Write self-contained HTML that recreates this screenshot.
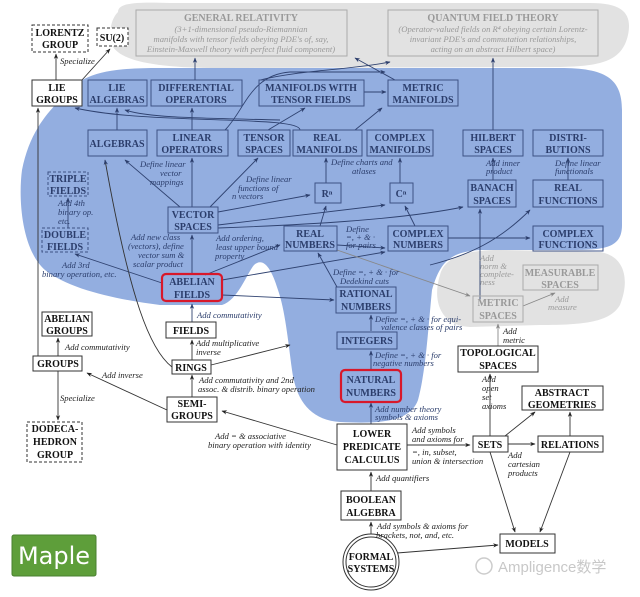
<!DOCTYPE html>
<html><head><meta charset="utf-8"><style>
body{margin:0;background:#fff;}
svg{display:block;}
.b{font-family:"Liberation Serif",serif;font-weight:bold;font-size:10px;text-anchor:middle;}
.i{font-family:"Liberation Serif",serif;font-style:italic;font-size:8.6px;}
.k text.b{fill:#111}
.u text.b{fill:#2b3d6b}
.g text.b{fill:#999}
.k rect{fill:#fff;stroke:#333;stroke-width:1}
.u rect{fill:none;stroke:#3d5185;stroke-width:1}
.g rect{fill:none;stroke:#aaa;stroke-width:1}
.d rect{stroke-dasharray:3,2}
.u rect.red{stroke:#d8182a;stroke-width:2.2}
.ul{fill:#2b3d6b}.kl{fill:#222}.gl{fill:#999}
</style></head><body>
<svg width="640" height="597" viewBox="0 0 640 597" xmlns="http://www.w3.org/2000/svg">
<defs>
<marker id="a" viewBox="0 0 10 10" refX="9" refY="5" markerWidth="8" markerHeight="6" orient="auto"><path d="M0,1 L10,5 L0,9 L3,5z" fill="#222"/></marker>
<marker id="ab" viewBox="0 0 10 10" refX="9" refY="5" markerWidth="8" markerHeight="6" orient="auto"><path d="M0,1 L10,5 L0,9 L3,5z" fill="#2b3d6b"/></marker>
<marker id="ag" viewBox="0 0 10 10" refX="9" refY="5" markerWidth="8" markerHeight="6" orient="auto"><path d="M0,1 L10,5 L0,9 L3,5z" fill="#888"/></marker>
</defs>
<path d="M118,12 C118,2 140,2 170,3 L590,3 C625,3 632,15 628,35 C622,62 600,66 560,67 L220,68 C160,68 120,62 112,45 C108,30 112,18 118,12Z" fill="#e2e2e2"/>
<path d="M440,275 C445,255 470,250 500,250 L600,252 C625,256 630,280 620,305 C610,322 585,325 540,325 L470,327 C440,326 432,300 440,275Z" fill="#e2e2e2"/>
<path d="M60,100 C80,72 110,68 160,68 L560,68 C605,68 622,78 622,110 L622,225 C622,248 605,250 570,250 L480,250 C450,252 440,262 432,290 C428,330 426,370 418,400 C410,422 380,424 340,422 C310,420 296,400 292,370 C288,340 285,310 278,290 C270,264 262,258 254,265 C246,275 238,300 222,305 L160,305 C120,300 70,290 45,270 C22,250 18,200 22,170 C28,140 40,120 60,100Z" fill="#93aee0"/>
<g class="g"><rect x="136" y="10" width="211" height="46"/><rect x="388" y="10" width="210" height="46"/>
<text class="b" x="241" y="21">GENERAL RELATIVITY</text>
<text class="b" x="493" y="21">QUANTUM FIELD THEORY</text></g>
<g class="i gl" text-anchor="middle">
<text x="241" y="32">(3+1-dimensional pseudo-Riemannian</text>
<text x="241" y="42">manifolds with tensor fields obeying PDE's of, say,</text>
<text x="241" y="52">Einstein-Maxwell theory with perfect fluid component)</text>
<text x="493" y="32">(Operator-valued fields on R⁴ obeying certain Lorentz-</text>
<text x="493" y="42">invariant PDE's and commutation relationships,</text>
<text x="493" y="52">acting on an abstract Hilbert space)</text>
</g>
<g stroke="#333" stroke-width="0.9" fill="none" marker-end="url(#a)">
<line x1="56" y1="80" x2="56" y2="54"/>
<line x1="82" y1="80" x2="110" y2="49"/>
<line x1="38" y1="356" x2="38" y2="108"/>
<line x1="58" y1="356" x2="58" y2="338"/>
<line x1="58" y1="370" x2="58" y2="420"/>
<line x1="167" y1="410" x2="87" y2="373"/>
<line x1="192" y1="397" x2="192" y2="375"/>
<line x1="192" y1="361" x2="192" y2="340"/>
<line x1="337" y1="445" x2="222" y2="411"/>
<line x1="371" y1="491" x2="371" y2="472"/>
<line x1="371" y1="535" x2="371" y2="522"/>
<line x1="397" y1="553" x2="498" y2="545"/>
<line x1="407" y1="445" x2="470" y2="445"/>
<line x1="508" y1="444" x2="535" y2="444"/>
<line x1="505" y1="436" x2="535" y2="412"/>
<line x1="570" y1="436" x2="570" y2="412"/>
<line x1="490" y1="436" x2="490" y2="374"/>
<line x1="490" y1="452" x2="515" y2="532"/>
<line x1="570" y1="452" x2="540" y2="532"/>
<path d="M172,367 C150,350 130,300 105,160" marker-end="url(#ab)"/>
<line x1="211" y1="365" x2="290" y2="345"/>
</g>
<g stroke="#2f4270" stroke-width="0.9" fill="none" marker-end="url(#ab)">
<line x1="192" y1="322" x2="192" y2="304"/>
<line x1="371" y1="424" x2="371" y2="403"/>
<line x1="371" y1="369" x2="371" y2="351"/>
<line x1="371" y1="331" x2="371" y2="315"/>
<line x1="337" y1="287" x2="318" y2="253"/>
<line x1="222" y1="295" x2="334" y2="300"/>
<line x1="222" y1="280" x2="385" y2="252"/>
<line x1="192" y1="275" x2="192" y2="235"/>
<line x1="205" y1="275" x2="280" y2="245"/>
<line x1="162" y1="283" x2="75" y2="254"/>
<line x1="68" y1="228" x2="68" y2="198"/>
<line x1="192" y1="207" x2="192" y2="158"/>
<line x1="180" y1="207" x2="125" y2="160"/>
<line x1="210" y1="207" x2="258" y2="158"/>
<line x1="218" y1="212" x2="310" y2="195"/>
<line x1="218" y1="225" x2="385" y2="205"/>
<path d="M218,228 C300,225 400,220 463,207"/>
<line x1="337" y1="245" x2="385" y2="248"/>
<line x1="320" y1="226" x2="326" y2="206"/>
<line x1="415" y1="226" x2="405" y2="206"/>
<line x1="448" y1="238" x2="530" y2="238"/>
<line x1="480" y1="300" x2="480" y2="209"/>
<path d="M430,265 C470,255 500,240 530,210"/>
<line x1="326" y1="183" x2="326" y2="158"/>
<line x1="400" y1="183" x2="400" y2="158"/>
<line x1="493" y1="180" x2="493" y2="158"/>
<line x1="568" y1="180" x2="568" y2="158"/>
<line x1="117" y1="130" x2="117" y2="108"/>
<line x1="192" y1="130" x2="192" y2="108"/>
<line x1="268" y1="130" x2="305" y2="108"/>
<line x1="355" y1="130" x2="382" y2="108"/>
<line x1="364" y1="92" x2="386" y2="92"/>
<line x1="493" y1="130" x2="493" y2="58"/>
<line x1="195" y1="80" x2="195" y2="58"/>
<path d="M300,130 C300,115 150,125 75,108"/>
<path d="M280,120 C200,118 150,118 125,110"/>
<path d="M225,130 C245,110 250,75 290,72 L385,72"/>
<path d="M260,80 C300,70 350,70 390,62"/>
<line x1="395" y1="80" x2="355" y2="58"/>
</g>
<g stroke="#888" stroke-width="0.9" fill="none" marker-end="url(#ag)">
<line x1="337" y1="250" x2="470" y2="296"/>
<line x1="523" y1="306" x2="555" y2="293"/>
<line x1="498" y1="346" x2="498" y2="324"/>
</g>
<g class="k">
<g class="d"><rect x="32" y="25" width="56" height="27"/><rect x="97" y="28" width="31" height="18"/><rect x="27" y="422" width="55" height="40"/></g>
<rect x="32" y="80" width="50" height="26"/>
<rect x="42" y="312" width="50" height="24"/>
<rect x="33" y="356" width="49" height="15"/>
<rect x="166" y="322" width="50" height="16"/>
<rect x="172" y="360" width="39" height="14"/>
<rect x="167" y="397" width="50" height="25"/>
<rect x="458" y="346" width="80" height="26"/>
<rect x="522" y="386" width="81" height="24"/>
<rect x="337" y="424" width="70" height="46"/>
<rect x="473" y="436" width="35" height="16"/>
<rect x="538" y="436" width="65" height="16"/>
<rect x="341" y="491" width="60" height="29"/>
<rect x="500" y="534" width="55" height="19"/>
<text class="b" x="60" y="36">LORENTZ</text><text class="b" x="60" y="48">GROUP</text>
<text class="b" x="112" y="41">SU(2)</text>
<text class="b" x="57" y="91">LIE</text><text class="b" x="57" y="103">GROUPS</text>
<text class="b" x="67" y="322">ABELIAN</text><text class="b" x="67" y="334">GROUPS</text>
<text class="b" x="58" y="367">GROUPS</text>
<text class="b" x="55" y="432">DODECA-</text><text class="b" x="55" y="445">HEDRON</text><text class="b" x="55" y="458">GROUP</text>
<text class="b" x="191" y="334">FIELDS</text>
<text class="b" x="191" y="371">RINGS</text>
<text class="b" x="192" y="407">SEMI-</text><text class="b" x="192" y="419">GROUPS</text>
<text class="b" x="498" y="356">TOPOLOGICAL</text><text class="b" x="498" y="369">SPACES</text>
<text class="b" x="562" y="396">ABSTRACT</text><text class="b" x="562" y="408">GEOMETRIES</text>
<text class="b" x="372" y="437">LOWER</text><text class="b" x="372" y="450">PREDICATE</text><text class="b" x="372" y="463">CALCULUS</text>
<text class="b" x="490" y="448">SETS</text>
<text class="b" x="570" y="448">RELATIONS</text>
<text class="b" x="371" y="503">BOOLEAN</text><text class="b" x="371" y="516">ALGEBRA</text>
<text class="b" x="527" y="547">MODELS</text>
<circle cx="371" cy="562" r="28" fill="#fff" stroke="#333"/><circle cx="371" cy="562" r="25" fill="none" stroke="#333"/>
<text class="b" x="371" y="560">FORMAL</text><text class="b" x="371" y="572">SYSTEMS</text>
</g>
<g class="u">
<rect x="88" y="80" width="59" height="26"/><rect x="151" y="80" width="91" height="26"/>
<rect x="259" y="80" width="105" height="26"/><rect x="388" y="80" width="70" height="26"/>
<rect x="88" y="130" width="59" height="26"/><rect x="157" y="130" width="71" height="26"/>
<rect x="238" y="130" width="52" height="26"/><rect x="293" y="130" width="69" height="26"/>
<rect x="367" y="130" width="66" height="26"/><rect x="463" y="130" width="60" height="26"/>
<rect x="533" y="130" width="70" height="26"/>
<rect x="315" y="183" width="26" height="20"/><rect x="390" y="183" width="23" height="20"/>
<rect x="468" y="180" width="48" height="27"/><rect x="533" y="180" width="70" height="27"/>
<rect x="168" y="207" width="50" height="26"/>
<rect x="284" y="226" width="53" height="25"/><rect x="388" y="226" width="60" height="25"/>
<rect x="533" y="226" width="70" height="25"/>
<rect x="336" y="287" width="60" height="26"/><rect x="337" y="332" width="60" height="17"/>
<g class="d"><rect x="48" y="172" width="40" height="24"/><rect x="42" y="228" width="46" height="24"/></g>
<rect class="red" x="162" y="274" width="60" height="27" rx="4"/>
<rect class="red" x="341" y="370" width="60" height="32" rx="4"/>
<text class="b" x="117" y="91">LIE</text><text class="b" x="117" y="103">ALGEBRAS</text>
<text class="b" x="196" y="91">DIFFERENTIAL</text><text class="b" x="196" y="103">OPERATORS</text>
<text class="b" x="311" y="91">MANIFOLDS WITH</text><text class="b" x="311" y="103">TENSOR FIELDS</text>
<text class="b" x="423" y="91">METRIC</text><text class="b" x="423" y="103">MANIFOLDS</text>
<text class="b" x="117" y="147">ALGEBRAS</text>
<text class="b" x="192" y="141">LINEAR</text><text class="b" x="192" y="153">OPERATORS</text>
<text class="b" x="264" y="141">TENSOR</text><text class="b" x="264" y="153">SPACES</text>
<text class="b" x="327" y="141">REAL</text><text class="b" x="327" y="153">MANIFOLDS</text>
<text class="b" x="400" y="141">COMPLEX</text><text class="b" x="400" y="153">MANIFOLDS</text>
<text class="b" x="493" y="141">HILBERT</text><text class="b" x="493" y="153">SPACES</text>
<text class="b" x="568" y="141">DISTRI-</text><text class="b" x="568" y="153">BUTIONS</text>
<text class="b" x="68" y="182">TRIPLE</text><text class="b" x="68" y="194">FIELDS</text>
<text class="b" x="327" y="197">Rⁿ</text><text class="b" x="401" y="197">Cⁿ</text>
<text class="b" x="492" y="191">BANACH</text><text class="b" x="492" y="204">SPACES</text>
<text class="b" x="568" y="191">REAL</text><text class="b" x="568" y="204">FUNCTIONS</text>
<text class="b" x="193" y="218">VECTOR</text><text class="b" x="193" y="230">SPACES</text>
<text class="b" x="65" y="238">DOUBLE</text><text class="b" x="65" y="250">FIELDS</text>
<text class="b" x="310" y="237">REAL</text><text class="b" x="310" y="248">NUMBERS</text>
<text class="b" x="418" y="237">COMPLEX</text><text class="b" x="418" y="248">NUMBERS</text>
<text class="b" x="568" y="237">COMPLEX</text><text class="b" x="568" y="248">FUNCTIONS</text>
<text class="b" x="192" y="285">ABELIAN</text><text class="b" x="192" y="298">FIELDS</text>
<text class="b" x="366" y="297">RATIONAL</text><text class="b" x="366" y="310">NUMBERS</text>
<text class="b" x="367" y="344">INTEGERS</text>
<text class="b" x="371" y="383">NATURAL</text><text class="b" x="371" y="396">NUMBERS</text>
</g>
<g class="g"><rect x="473" y="296" width="50" height="26"/><rect x="523" y="265" width="75" height="25"/>
<text class="b" x="498" y="306">METRIC</text><text class="b" x="498" y="319">SPACES</text>
<text class="b" x="560" y="276">MEASURABLE</text><text class="b" x="560" y="288">SPACES</text></g>
<g class="i kl">
<text x="60" y="64">Specialize</text>
<text x="65" y="350">Add commutativity</text>
<text x="60" y="401">Specialize</text>
<text x="102" y="378">Add inverse</text>
<text x="196" y="346">Add multiplicative</text><text x="196" y="355">inverse</text>
<text x="199" y="383">Add commutativity and 2nd</text><text x="198" y="392">assoc. &amp; distrib. binary operation</text>
<text x="215" y="439">Add = &amp; associative</text><text x="208" y="448">binary operation with identity</text>
<text x="376" y="481">Add quantifiers</text>
<text x="377" y="529">Add symbols &amp; axioms for</text><text x="376" y="538">brackets, not, and, etc.</text>
<text x="412" y="433">Add symbols</text><text x="412" y="442">and axioms for</text>
<text x="412" y="455">=, in, subset,</text><text x="412" y="464">union &amp; intersection</text>
<text x="482" y="382">Add</text><text x="482" y="391">open</text><text x="482" y="400">set</text><text x="482" y="409">axioms</text>
<text x="508" y="458">Add</text><text x="508" y="467">cartesian</text><text x="508" y="476">products</text>
<text x="503" y="334">Add</text><text x="503" y="343">metric</text>
</g>
<g class="i ul">
<text x="58" y="206">Add 4th</text><text x="58" y="215">binary op.</text><text x="58" y="224">etc.</text>
<text x="62" y="268">Add 3rd</text><text x="42" y="277">binary operation, etc.</text>
<text x="197" y="318">Add commutativity</text>
<text x="140" y="167">Define linear</text><text x="160" y="176">vector</text><text x="150" y="185">mappings</text>
<text x="246" y="182">Define linear</text><text x="238" y="191">functions of</text><text x="232" y="199">n vectors</text>
<text x="131" y="240">Add new class</text><text x="128" y="249">(vectors), define</text><text x="138" y="258">vector sum &amp;</text><text x="133" y="267">scalar product</text>
<text x="216" y="241">Add ordering,</text><text x="216" y="250">least upper bound</text><text x="215" y="259">property</text>
<text x="331" y="165">Define charts and</text><text x="352" y="174">atlases</text>
<text x="346" y="232">Define</text><text x="346" y="240">=, + &amp; ·</text><text x="346" y="248">for pairs</text>
<text x="333" y="275">Define =, + &amp; · for</text><text x="340" y="284">Dedekind cuts</text>
<text x="375" y="322">Define =, + &amp; · for equi-</text><text x="381" y="330">valence classes of pairs</text>
<text x="375" y="358">Define =, + &amp; · for</text><text x="373" y="366">negative numbers</text>
<text x="375" y="412">Add number theory</text><text x="375" y="420">symbols &amp; axioms</text>
<text x="486" y="166">Add inner</text><text x="486" y="174">product</text>
<text x="555" y="166">Define linear</text><text x="555" y="174">functionals</text>
</g>
<g class="i gl">
<text x="480" y="261">Add</text><text x="480" y="269">norm &amp;</text><text x="480" y="277">complete-</text><text x="480" y="285">ness</text>
<text x="555" y="302">Add</text><text x="548" y="310">measure</text>
</g>
<rect x="12" y="535" width="84" height="41" rx="2" fill="#5e9e3a" stroke="#4a8030"/>
<text x="54" y="564" text-anchor="middle" fill="#fff" font-family="'DejaVu Sans',sans-serif" font-size="24">Maple</text>
<text x="498" y="572" fill="#c8c8c8" font-family="'Liberation Sans','Noto Sans CJK SC',sans-serif" font-size="15">Ampligence数学</text>
<circle cx="484" cy="566" r="8" fill="none" stroke="#ccc" stroke-width="1.5"/>
</svg>
</body></html>
